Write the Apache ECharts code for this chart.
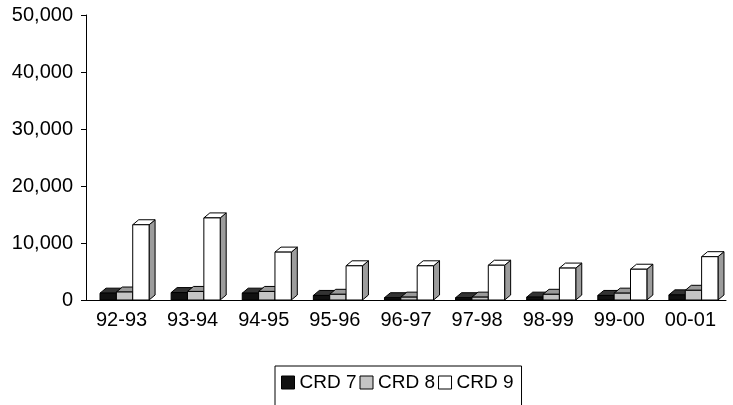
<!DOCTYPE html>
<html>
<head>
<meta charset="utf-8">
<script src="https://cdn.jsdelivr.net/npm/echarts@6/dist/echarts.min.js"></script>
<style>
  html, body { margin: 0; padding: 0; background: #fff; }
  #chart { width: 733px; height: 405px; }
</style>
</head>
<body>
<div id="chart"></div>
<script>
const years = ['92-93', '93-94', '94-95', '95-96', '96-97', '97-98', '98-99', '99-00', '00-01'];
const crd7 = [1200, 1300, 1200, 800, 400, 400, 500, 800, 900];
const crd8 = [1400, 1500, 1500, 1000, 500, 500, 1000, 1200, 1700];
const crd9 = [13200, 14400, 8400, 6000, 6000, 6100, 5600, 5400, 7600];
const yTicks = [0, 10000, 20000, 30000, 40000, 50000];

// front / top / side colours for the fake 3D bars
const faces = [
  { front: '#111', top: '#333', side: '#000' },
  { front: '#c4c4c4', top: '#9a9a9a', side: '#7a7a7a' },
  { front: '#fff', top: '#fff', side: '#9c9c9c' }
];

function bar3d(idx) {
  return function (params, api) {
    const cat = api.value(0);
    const val = api.value(1);
    const base = api.coord([cat, 0]);
    const top = api.coord([cat, val]);
    const bw = api.size([1, 0])[0] * 0.23;
    const dx = 6, dy = 5;
    const x0 = base[0] - 1.5 * bw + idx * bw + 3;
    const x1 = x0 + bw;
    const yb = base[1], yt = top[1];
    const c = faces[idx];
    const line = { stroke: '#000', lineWidth: 1 };
    return {
      type: 'group',
      children: [
        { type: 'polygon', shape: { points: [[x1, yt], [x1 + dx, yt - dy], [x1 + dx, yb - dy], [x1, yb]] },
          style: Object.assign({ fill: c.side }, line) },
        { type: 'polygon', shape: { points: [[x0, yt], [x0 + dx, yt - dy], [x1 + dx, yt - dy], [x1, yt]] },
          style: Object.assign({ fill: c.top }, line) },
        { type: 'rect', shape: { x: x0, y: yt, width: bw, height: yb - yt },
          style: Object.assign({ fill: c.front }, line) }
      ]
    };
  };
}

const font = 'Liberation Sans, Arial, sans-serif';
const seriesData = [crd7, crd8, crd9];
const names = ['CRD 7', 'CRD 8', 'CRD 9'];

const chart = echarts.init(document.getElementById('chart'));
chart.setOption({
  animation: false,
  grid: { left: 86, right: 7, top: 15, bottom: 105 },
  legend: {
    left: 275,
    top: 366,
    padding: [7, 8, 20, 6],
    borderColor: '#000',
    borderWidth: 1,
    itemGap: 3,
    itemWidth: 13,
    itemHeight: 13,
    icon: 'rect',
    textStyle: { fontFamily: font, fontSize: 19, color: '#000' },
    data: names.map((n, i) => ({
      name: n,
      itemStyle: { color: faces[i].front, borderColor: '#000', borderWidth: 1 }
    }))
  },
  xAxis: {
    type: 'category',
    data: years,
    axisLine: { lineStyle: { color: '#000' } },
    axisTick: { length: 5, lineStyle: { color: '#000' } },
    axisLabel: { color: '#000', fontFamily: font, fontSize: 20, margin: 10 }
  },
  yAxis: {
    type: 'value',
    min: yTicks[0],
    max: yTicks[yTicks.length - 1],
    interval: 10000,
    axisLine: { show: true, lineStyle: { color: '#000' } },
    axisTick: { show: true, length: 5, lineStyle: { color: '#000' } },
    splitLine: { show: false },
    axisLabel: {
      color: '#000', fontFamily: font, fontSize: 20, margin: 13,
      formatter: v => v.toLocaleString('en-US')
    }
  },
  series: seriesData.map((d, i) => ({
    name: names[i],
    type: 'custom',
    renderItem: bar3d(i),
    itemStyle: { color: faces[i].front, borderColor: '#000', borderWidth: 1 },
    encode: { x: 0, y: 1 },
    data: d.map((v, k) => [k, v])
  }))
});
</script>
</body>
</html>
